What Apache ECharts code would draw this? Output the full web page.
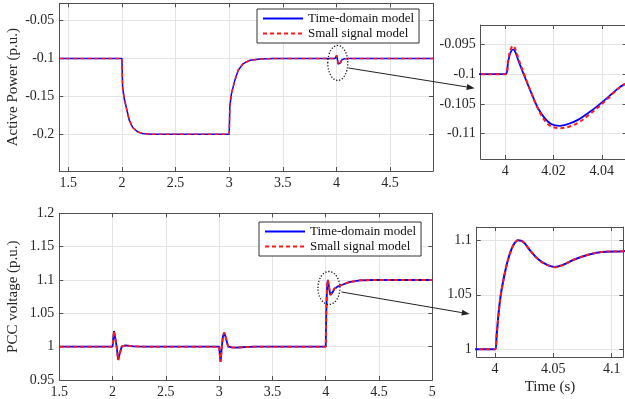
<!DOCTYPE html>
<html><head><meta charset="utf-8">
<script src="https://cdn.jsdelivr.net/npm/echarts@6/dist/echarts.min.js"></script>
<style>html,body{margin:0;padding:0;background:#fff}#c{width:625px;height:399px}</style>
</head><body><div id="c"></div>
<script>
const legendNames = ['Time-domain model', 'Small signal model'];

// Active power (p.u.) vs time (s)
const powerTime = [1.416, 2.0, 2.006, 2.021, 2.043, 2.068, 2.1, 2.147, 2.193, 2.28, 3.0, 3.006, 3.022, 3.053, 3.084, 3.131, 3.194, 3.287, 3.41, 3.985, 4.0, 4.0012, 4.0022, 4.0032, 4.0042, 4.0053, 4.008, 4.0108, 4.0135, 4.0163, 4.019, 4.0225, 4.026, 4.0301, 4.0342, 4.0384, 4.0425, 4.0453, 4.0494, 4.06, 4.075, 4.09, 4.11, 4.14, 4.9];
const powerTD = [-0.1, -0.1, -0.1375, -0.1528, -0.1659, -0.1813, -0.191, -0.1968, -0.199, -0.2, -0.2, -0.163, -0.1456, -0.1285, -0.1154, -0.1066, -0.1022, -0.1005, -0.1, -0.1, -0.1, -0.0978, -0.0963, -0.0958, -0.0963, -0.0976, -0.1004, -0.1032, -0.1057, -0.1074, -0.1084, -0.1087, -0.1084, -0.1077, -0.1066, -0.1053, -0.1039, -0.1029, -0.1017, -0.1006, -0.1001, -0.0999, -0.1, -0.1, -0.1];
const powerSS = [-0.1, -0.1, -0.1375, -0.1528, -0.1659, -0.1813, -0.191, -0.1968, -0.199, -0.2, -0.2, -0.163, -0.1456, -0.1285, -0.1154, -0.1066, -0.1022, -0.1005, -0.1, -0.1, -0.1, -0.0975, -0.0958, -0.0952, -0.0958, -0.0972, -0.1002, -0.1032, -0.1058, -0.1078, -0.1088, -0.1091, -0.1089, -0.1082, -0.1070, -0.1056, -0.1041, -0.1030, -0.1017, -0.1006, -0.1001, -0.0999, -0.1, -0.1, -0.1];

// PCC voltage (p.u.) vs time (s)
const voltTime = [1.5, 2.0, 2.006, 2.013, 2.02, 2.038, 2.053, 2.068, 2.085, 2.12, 2.2, 2.3, 3.0, 3.005, 3.013, 3.02, 3.025, 3.035, 3.047, 3.06, 3.085, 3.12, 3.163, 3.25, 3.35, 4.0, 4.0014, 4.0029, 4.0051, 4.0086, 4.0114, 4.0157, 4.02, 4.0243, 4.03, 4.0371, 4.0443, 4.0514, 4.0585, 4.0685, 4.0799, 4.0913, 4.11, 4.15, 4.22, 4.32, 4.45, 5.0];
const voltTD = [1, 1, 1.012, 1.0234, 1.018, 1.0, 0.98, 0.99, 1.0, 1.0018, 1.0005, 1.0, 1.0, 0.99, 0.9775, 0.99, 1.0, 1.015, 1.021, 1.015, 1.0, 0.9988, 0.9985, 0.9995, 1.0, 1.0, 1.0128, 1.0312, 1.051, 1.0709, 1.0831, 1.0954, 1.1, 1.0984, 1.0908, 1.0826, 1.0776, 1.0755, 1.0776, 1.0826, 1.0868, 1.0893, 1.09, 1.0925, 1.0967, 1.0995, 1.1, 1.1];
const voltSS = [1, 1, 1.012, 1.0236, 1.018, 1.0, 0.98, 0.99, 1.0, 1.0018, 1.0005, 1.0, 1.0, 0.99, 0.9772, 0.99, 1.0, 1.015, 1.0212, 1.015, 1.0, 0.9988, 0.9985, 0.9995, 1.0, 1.0, 1.0126, 1.031, 1.0508, 1.0708, 1.0831, 1.0955, 1.1001, 1.0985, 1.0908, 1.0824, 1.0774, 1.0753, 1.0775, 1.0826, 1.0868, 1.0893, 1.09, 1.0925, 1.0967, 1.0995, 1.1, 1.1];

// tick values
const pMainXTicks = [1.5, 2, 2.5, 3, 3.5, 4, 4.5];
const pMainYTicks = [-0.2, -0.15, -0.1, -0.05];
const pZoomXTicks = [4, 4.02, 4.04];
const pZoomYTicks = [-0.11, -0.105, -0.1, -0.095];
const vMainXTicks = [1.5, 2, 2.5, 3, 3.5, 4, 4.5, 5];
const vMainYTicks = [0.95, 1, 1.05, 1.1, 1.15, 1.2];
const vZoomXTicks = [4, 4.05, 4.1];
const vZoomYTicks = [1, 1.05, 1.1];

const FONT = "'Liberation Serif','Times New Roman',serif";
const AX = '#505050', TXT = '#262626', GRIDC = '#e4e4e4';
const BLUE = '#0000ff', RED = '#ff1a1a';
const fmt = v => String(Number(v.toFixed(4)));
const zip = (xs, ys) => xs.map((x, i) => [x, ys[i]]);

function xAxes(g, min, max, ticks, extra) {
  return [
    Object.assign({
      type: 'value', gridIndex: g, position: 'bottom', min, max,
      axisLine: {show: true, onZero: false, lineStyle: {color: AX, width: 1}},
      axisTick: {show: true, inside: true, length: 4, customValues: ticks, lineStyle: {color: AX}},
      axisLabel: {show: true, customValues: ticks, formatter: fmt, margin: 5, fontFamily: FONT, fontSize: 14, color: TXT, showMinLabel: true, showMaxLabel: true},
      splitLine: {show: true, lineStyle: {color: GRIDC, width: 1}}
    }, extra || {}),
    {
      type: 'value', gridIndex: g, position: 'top', min, max,
      axisLine: {show: true, onZero: false, lineStyle: {color: AX, width: 1}},
      axisTick: {show: true, inside: true, length: 4, customValues: ticks, lineStyle: {color: AX}},
      axisLabel: {show: false}, splitLine: {show: false}
    }
  ];
}
function yAxes(g, min, max, ticks, extra) {
  return [
    Object.assign({
      type: 'value', gridIndex: g, position: 'left', min, max,
      axisLine: {show: true, onZero: false, lineStyle: {color: AX, width: 1}},
      axisTick: {show: true, inside: true, length: 4, customValues: ticks, lineStyle: {color: AX}},
      axisLabel: {show: true, customValues: ticks, formatter: fmt, margin: 5, fontFamily: FONT, fontSize: 14, color: TXT, showMinLabel: true, showMaxLabel: true},
      splitLine: {show: true, lineStyle: {color: GRIDC, width: 1}}
    }, extra || {}),
    {
      type: 'value', gridIndex: g, position: 'right', min, max,
      axisLine: {show: true, onZero: false, lineStyle: {color: AX, width: 1}},
      axisTick: {show: true, inside: true, length: 4, customValues: ticks, lineStyle: {color: AX}},
      axisLabel: {show: false}, splitLine: {show: false}
    }
  ];
}
function pair(prefix, g, xs, td, ss, w, dashW, smooth) {
  const base = {type: 'line', xAxisIndex: 2 * g, yAxisIndex: 2 * g, symbol: 'none', showSymbol: false, animation: false, smooth: smooth || false};
  return [
    Object.assign({}, base, {name: prefix + '|' + legendNames[0], data: zip(xs, td), color: BLUE, lineStyle: {color: BLUE, width: w}, z: 2}),
    Object.assign({}, base, {name: prefix + '|' + legendNames[1], data: zip(xs, ss), color: RED, lineStyle: {color: RED, width: dashW, type: [4, 3]}, z: 3})
  ];
}
function legend(prefix, left, top) {
  return {
    data: legendNames.map(n => prefix + '|' + n), formatter: n => n.split('|')[1],
    orient: 'vertical', left, top, itemWidth: 40, itemHeight: 12, itemGap: 2,
    padding: [3, 5, 3, 5], borderColor: '#333', borderWidth: 1, borderRadius: 0, backgroundColor: '#fff',
    itemStyle: {opacity: 0},
    textStyle: {fontFamily: FONT, fontSize: 13, color: '#111'},
    selectedMode: false, z: 10
  };
}
const yName = (n) => ({name: n, nameLocation: 'middle', nameGap: 39, nameMoveOverlap: false, nameTextStyle: {fontFamily: FONT, fontSize: 15, color: TXT}});

const option = {
  animation: false,
  backgroundColor: '#fff',
  grid: [
    {left: 59.3, top: 3.3, width: 373.7, height: 167.7, containLabel: false, outerBoundsMode: 'none'},
    {left: 480.7, top: 25, width: 146, height: 134, containLabel: false, outerBoundsMode: 'none'},
    {left: 59.3, top: 213.3, width: 373, height: 166.7, containLabel: false, outerBoundsMode: 'none'},
    {left: 476.7, top: 227, width: 146.6, height: 130, containLabel: false, outerBoundsMode: 'none'}
  ],
  xAxis: [].concat(
    xAxes(0, 1.416, 4.9, pMainXTicks),
    xAxes(1, 3.9898, 4.0503, pZoomXTicks),
    xAxes(2, 1.5, 5, vMainXTicks),
    xAxes(3, 3.9843, 4.11, vZoomXTicks, {name: 'Time (s)', nameLocation: 'middle', nameGap: 23, nameMoveOverlap: false, nameTextStyle: {fontFamily: FONT, fontSize: 15, color: TXT}})
  ),
  yAxis: [].concat(
    yAxes(0, -0.2485, -0.027, pMainYTicks, yName('Active Power (p.u.)')),
    yAxes(1, -0.1143, -0.0917, pZoomYTicks),
    yAxes(2, 0.95, 1.2, vMainYTicks, yName('PCC voltage (p.u.)')),
    yAxes(3, 0.9929, 1.1122, vZoomYTicks)
  ),
  legend: [legend('P', 257, 9), legend('V', 259, 222)],
  series: [].concat(
    pair('P', 0, powerTime, powerTD, powerSS, 1.5, 1.5),
    pair('Pz', 1, powerTime, powerTD, powerSS, 1.8, 2, 0.35),
    pair('V', 2, voltTime, voltTD, voltSS, 1.8, 2),
    pair('Vz', 3, voltTime, voltTD, voltSS, 2, 2, 0.35)
  )
};

const chart = echarts.init(document.getElementById('c'), null, {renderer: 'canvas'});
chart.setOption(option);

// annotations: dotted ellipses and arrows to the zoomed views
function arrowEls(x1, y1, x2, y2) {
  const a = Math.atan2(y2 - y1, x2 - x1), L = 8, W = 3;
  const bx = x2 - L * Math.cos(a), by = y2 - L * Math.sin(a);
  return [
    {type: 'line', shape: {x1, y1, x2: bx, y2: by}, style: {stroke: '#222', lineWidth: 1}, z: 20},
    {type: 'polygon', shape: {points: [[x2, y2], [bx + W * Math.sin(a), by - W * Math.cos(a)], [bx - W * Math.sin(a), by + W * Math.cos(a)]]}, style: {fill: '#222'}, z: 20}
  ];
}
const eTop = chart.convertToPixel({xAxisIndex: 0, yAxisIndex: 0}, [4.012, -0.1058]);
const eBot = chart.convertToPixel({xAxisIndex: 4, yAxisIndex: 4}, [4.03, 1.088]);
const tTop = chart.convertToPixel({xAxisIndex: 2, yAxisIndex: 2}, [3.9898, -0.10236]);
const tBot = chart.convertToPixel({xAxisIndex: 6, yAxisIndex: 6}, [3.9843, 1.0324]);
const dotted = {fill: 'none', stroke: '#111', lineWidth: 1.3, lineDash: [1.2, 1.8]};
chart.setOption({
  graphic: [
    {type: 'ellipse', shape: {cx: eTop[0], cy: eTop[1], rx: 10, ry: 17.5}, style: dotted, z: 20},
    {type: 'ellipse', shape: {cx: eBot[0], cy: eBot[1], rx: 11, ry: 16.5}, style: dotted, z: 20}
  ].concat(
    arrowEls(eTop[0] + 10.5, eTop[1] + 5, tTop[0] - 6, tTop[1]),
    arrowEls(eBot[0] + 12.5, eBot[1] + 4, tBot[0] - 7, tBot[1])
  )
});
</script>
</body></html>
